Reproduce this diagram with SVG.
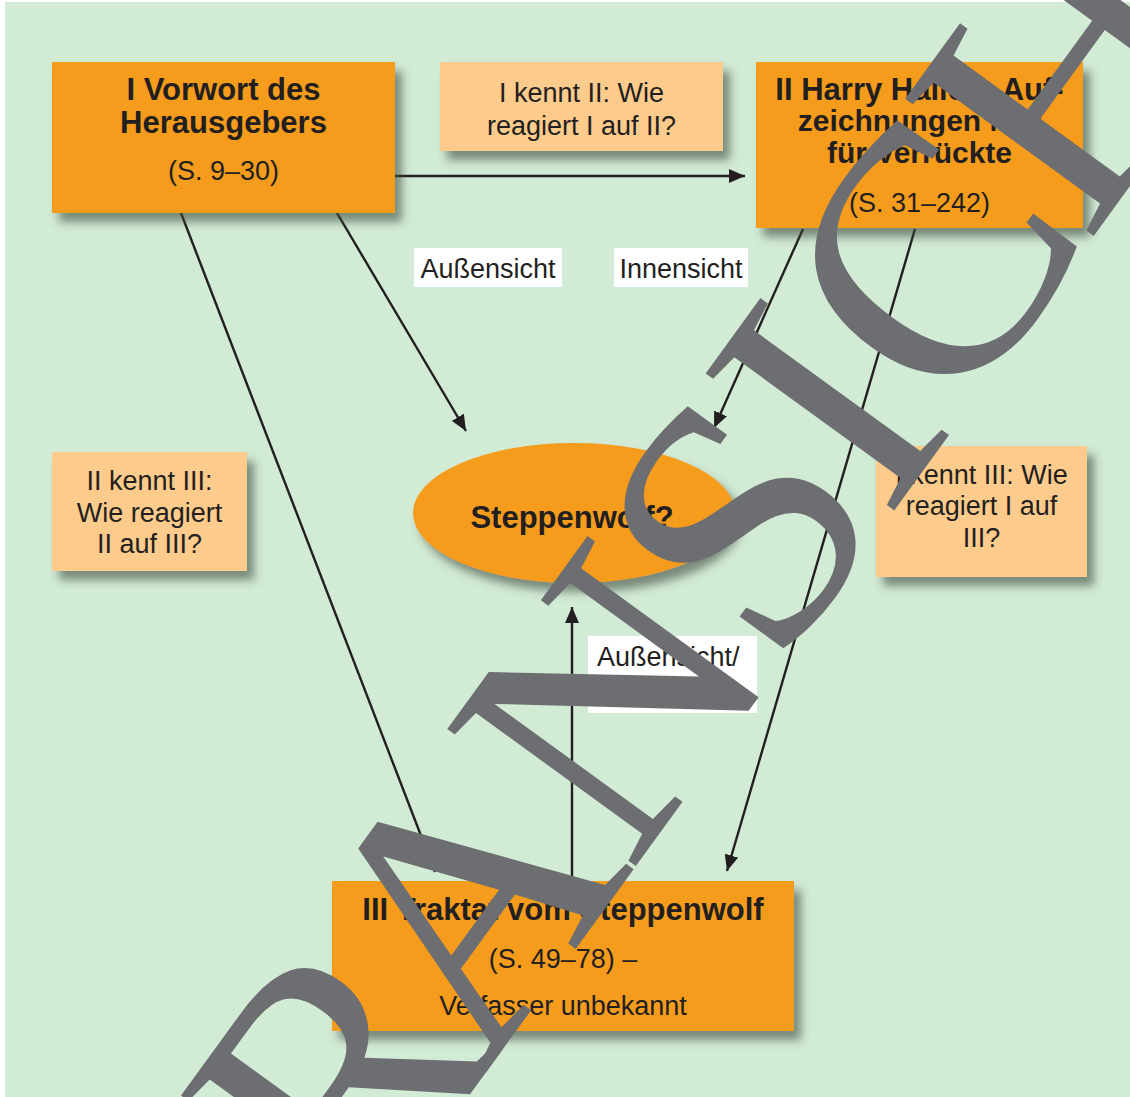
<svg xmlns="http://www.w3.org/2000/svg" width="1130" height="1097" viewBox="0 0 1130 1097">
<style>
.box{fill:#f69c1e}
.note{fill:#fdcb8b}
.lbl{fill:#ffffff}
.b{font-family:"Liberation Sans",Arial,sans-serif;font-weight:bold;font-size:31px;fill:#231f20;text-anchor:middle}
.b2{font-family:"Liberation Sans",Arial,sans-serif;font-weight:bold;font-size:30px;fill:#231f20;text-anchor:middle}
.r{font-family:"Liberation Sans",Arial,sans-serif;font-size:27px;fill:#231f20;text-anchor:middle}
.rl{font-family:"Liberation Sans",Arial,sans-serif;font-size:27px;fill:#231f20}
.con{stroke:#231f20;stroke-width:2.4;fill:none;marker-end:url(#ah)}
.wm{font-family:"Liberation Serif","Times New Roman",serif;font-size:356px;fill:#6d6e71}
</style>
<defs>
<filter id="sh" x="-20%" y="-20%" width="150%" height="160%">
<feDropShadow dx="7" dy="9" stdDeviation="5" flood-color="#3a4a3c" flood-opacity="0.6"/>
</filter>
<marker id="ah" viewBox="0 0 16 14" refX="16" refY="7" markerWidth="16" markerHeight="14" markerUnits="userSpaceOnUse" orient="auto">
<path d="M0,0 L16,7 L0,14 z" fill="#231f20"/>
</marker>
</defs>
<rect x="0" y="0" width="1130" height="1097" fill="#ffffff"/>
<rect x="5" y="2" width="1125" height="1095" fill="#d2ebd5"/>

<g id="connectors">
<line class="con" x1="395" y1="176" x2="745" y2="176"/>
<line class="con" x1="337" y1="213" x2="466" y2="431"/>
<line class="con" x1="181" y1="213" x2="435" y2="872"/>
<line class="con" x1="803" y1="229" x2="714" y2="428"/>
<line class="con" x1="915" y1="229" x2="727" y2="871"/>
<line class="con" x1="572" y1="881" x2="572" y2="607"/>
</g>

<g id="node-vorwort">
<rect class="box" x="52" y="62" width="343" height="151" filter="url(#sh)"/>
<text class="b" x="223.5" y="100">I Vorwort des</text>
<text class="b" x="223.5" y="133">Herausgebers</text>
<text class="r" x="223.5" y="180">(S. 9–30)</text>
</g>

<g id="node-kennt-1-2">
<rect class="note" x="440" y="62" width="283" height="89" filter="url(#sh)"/>
<text class="r" x="581.5" y="102">I kennt II: Wie</text>
<text class="r" x="581.5" y="135">reagiert I auf II?</text>
</g>

<g id="node-aufzeichnungen">
<rect class="box" x="756" y="62" width="327" height="166" filter="url(#sh)"/>
<text class="b" x="919.5" y="100">II Harry Hallers Auf-</text>
<text class="b2" x="919.5" y="131">zeichnungen Nur</text>
<text class="b2" x="919.5" y="163">für Verrückte</text>
<text class="r" x="919.5" y="212">(S. 31–242)</text>
</g>

<g id="label-aussensicht">
<rect class="lbl" x="414" y="248" width="148" height="39"/>
<text class="r" x="488" y="278">Außensicht</text>
</g>

<g id="label-innensicht">
<rect class="lbl" x="614" y="248" width="134" height="39"/>
<text class="r" x="681" y="278">Innensicht</text>
</g>

<g id="node-kennt-2-3">
<rect class="note" x="52" y="452" width="195" height="119" filter="url(#sh)"/>
<text class="r" x="149.5" y="490">II kennt III:</text>
<text class="r" x="149.5" y="522">Wie reagiert</text>
<text class="r" x="149.5" y="553">II auf III?</text>
</g>

<g id="node-steppenwolf">
<ellipse class="box" cx="574" cy="513" rx="161" ry="70" filter="url(#sh)"/>
<text class="b" x="572" y="528">Steppenwolf?</text>
</g>

<g id="node-kennt-1-3">
<rect class="note" x="876" y="446" width="211" height="131" filter="url(#sh)"/>
<text class="r" x="981.5" y="484">I kennt III: Wie</text>
<text class="r" x="981.5" y="515">reagiert I auf</text>
<text class="r" x="981.5" y="547">III?</text>
</g>

<g id="label-aussen-innen">
<rect class="lbl" x="588" y="636" width="169" height="77"/>
<text class="rl" x="597" y="666">Außensicht/</text>
<text class="rl" x="597" y="698">Innensicht</text>
</g>

<g id="node-traktat">
<rect class="box" x="332" y="881" width="462" height="150" filter="url(#sh)"/>
<text class="b" x="563" y="920">III Traktat vom Steppenwolf</text>
<text class="r" x="563" y="968">(S. 49–78) –</text>
<text class="r" x="563" y="1015">Verfasser unbekannt</text>
</g>

<g id="watermark">
<text class="wm" transform="translate(487,1071) rotate(-54)" x="-677 -463 -210 30 -5 243 492 680 797 1022 1275" y="0">ZUR ANSICHT</text>
</g>
</svg>
